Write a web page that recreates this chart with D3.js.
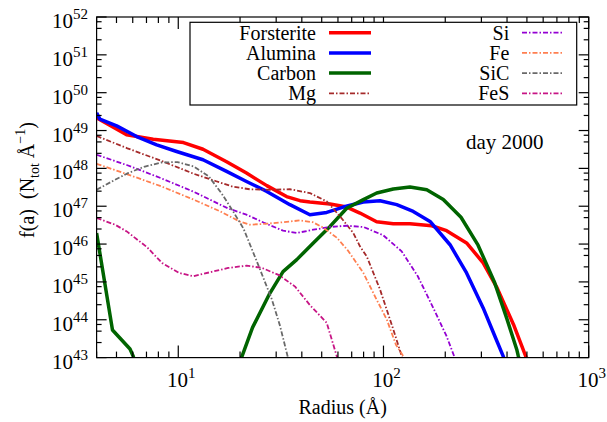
<!DOCTYPE html>
<html><head><meta charset="utf-8">
<script src="https://cdn.jsdelivr.net/npm/d3@7"></script>
<style>body{margin:0;background:#fff}</style>
</head><body>
<svg id="c" width="607" height="422"></svg>
<script>
// ---------------- data ----------------
const seriesNames = ["Forsterite","Alumina","Carbon","Mg","Si","Fe","SiC","FeS"];
const seriesColors = ["#ff0000","#0000ff","#006400","#a52a2a","#9400d3","#ff7f50","#696969","#c71585"];
const seriesSolid = [true,true,true,false,false,false,false,false];

const forsteriteR = [4.0,5.6,7.55,10.6,13.2,17.2,21.5,27,33.7,39.2,43.8,54.9,66.2,76.8,92.6,111.6,134.6,171.8,203,254,306,356,430,492,518];
const forsteriteF = [2.15e49,7.7e48,5.9e48,4.8e48,3.2e48,1.5e48,7.5e47,3.5e47,1.8e47,1.4e47,1.29e47,1.14e47,9.5e46,6.6e46,3.9e46,3.45e46,3.45e46,3.05e46,2.26e46,1.07e46,3.2e45,7.3e44,7.5e43,1.13e43,4.3e42];

const aluminaR = [4.0,4.15,5.01,6.27,7.85,9.82,13.2,17.2,21.5,27,35,43.8,52.9,63.7,79.7,96.2,116,139.6,168.6,211,254,306,349,383,400];
const aluminaF = [2.93e49,2.0e49,1.33e49,6.95e48,4.2e48,2.79e48,1.69e48,8.3e47,4.5e47,2.46e47,1.1e47,5.97e46,6.86e46,9.5e46,1.29e47,1.40e47,1.1e47,7.3e46,3.97e46,9.6e45,1.73e45,2.06e44,3.67e43,1.09e43,5.5e42];

const carbonR = [4.0,4.78,5.82,6.04,6.2,10,19.4,20.4,23,27.7,32.4,37.8,45.5,54.9,66.2,79.8,92.7,111.7,134.6,162.5,195.6,238.6,289,348,398,446,454,468];
const carbonF = [1.95e46,5.35e43,1.69e43,1.07e43,5e42,null,5e42,1.04e43,6.2e43,4.6e44,1.87e45,3.88e45,1.07e46,2.93e46,8.85e46,1.49e47,2.23e47,2.84e47,3.21e47,2.72e47,1.51e47,5.1e46,9.35e45,9.6e44,1.12e44,1.64e43,1.09e43,5.8e42];

const mgR = [4.0,5.65,8.24,11.9,15.3,18.5,22.3,28,35,43.8,52.9,61.4,71.3,76.8,82.9,96.2,111.7,122.7,127.4];
const mgF = [7.2e48,3.39e48,1.59e48,7.2e47,4.57e47,3.27e47,2.81e47,2.72e47,2.81e47,2.23e47,1.34e47,5.4e46,1.96e46,8.7e45,4.7e45,6.3e44,5.5e43,1.09e43,5.5e42];

const siR = [4.0,5.65,8.24,11.9,17.4,21.5,26.5,32.4,37.8,45.5,54.9,66.2,79.8,99.6,122.7,147,178,203,221,231];
const siF = [2.29e48,1.21e48,5.5e47,2.41e47,8.85e46,5.97e46,3.56e46,2.26e46,1.96e46,2.4e46,2.83e46,3.05e46,2.83e46,1.72e46,6.4e45,1.41e45,1.68e44,3.67e43,1.09e43,5.5e42];

const feR = [4.0,5.65,8.24,11.9,16,20,22.3,27,32.4,39.2,45.3,50.9,59.2,67.2,79.8,91,103.8,115,125,129];
const feF = [1.32e48,6.98e47,3.37e47,1.49e47,7.3e46,3.9e46,3.25e46,3.45e46,3.78e46,4.22e46,3.78e46,2.71e46,1.48e46,6.7e45,1.73e45,4.1e44,1.01e44,2.2e43,1.09e43,5.8e42];

const sicR = [4.0,4.92,5.69,6.88,8.3,9.91,11.9,14.1,16.3,18.5,20.8,24.5,28.6,31.3,34.1,34.8];
const sicF = [2.72e47,5.0e47,7.5e47,1.12e48,1.43e48,1.47e48,1.12e48,6.1e47,2.14e47,7.3e46,2.55e46,2.86e45,3.41e44,7.0e43,1.09e43,5.8e42];

const fesR = [4.0,4.92,5.61,7.04,8.34,10.1,11.8,14.4,17.5,21.5,25.6,31,37.1,43.8,52.9,59.2,61];
const fesF = [4.89e46,3.25e46,2.16e46,8.3e45,3.17e45,1.73e45,1.41e45,1.82e45,2.34e45,2.69e45,2.34e45,1.51e45,7.5e44,2.44e44,8.3e43,1.09e43,5.8e42];

const xMajorTicks = [10,100,1000];
const xMajorExp = ["1","2","3"];
const yMajorExp = [43,44,45,46,47,48,49,50,51,52];
const yMinorMult = [2.5,5,7.5];
const xMinorMult = [2,3,4,5,6,7,8,9];
const xLabel = "Radius (Å)";
const dayLabel = "day 2000";

const rArrays = [forsteriteR,aluminaR,carbonR,mgR,siR,feR,sicR,fesR];
const fArrays = [forsteriteF,aluminaF,carbonF,mgF,siF,feF,sicF,fesF];

// ---------------- layout ----------------
const FONT = "Liberation Serif";
const L = 96.6, R = 588.7, T = 17, B = 357.6;
const svg = d3.select("#c");
const x = d3.scaleLog().domain([4,1000]).range([L,R]);
const y = d3.scaleLog().domain([1e43,1e52]).range([B,T]);

svg.append("defs").append("clipPath").attr("id","clip")
  .append("rect").attr("x",L).attr("y",T).attr("width",R-L).attr("height",B-T);

// lines
const line = d3.line().defined(d=>d[1]!=null).x(d=>x(d[0])).y(d=>y(d[1]));
const g = svg.append("g").attr("clip-path","url(#clip)");
const dash = "5,2,1.5,2";
rArrays.forEach((rs,i)=>{
  const pts = rs.map((r,j)=>[r,fArrays[i][j]]);
  g.append("path").attr("d",line(pts)).attr("fill","none")
   .attr("stroke",seriesColors[i])
   .attr("stroke-width",seriesSolid[i]?3.5:1.8)
   .attr("stroke-dasharray",seriesSolid[i]?null:dash)
   .attr("stroke-linejoin","round");
});

// frame
const ax = svg.append("g").attr("stroke","#000").attr("stroke-width",1.2);
ax.append("rect").attr("x",L).attr("y",T).attr("width",R-L).attr("height",B-T).attr("fill","none");

function txt(sel){ return sel.append("text").attr("font-family",FONT).attr("fill","#000"); }

// x ticks
const xMinor = [];
for (let k=0;k<=2;k++) xMinorMult.forEach(m=>{const v=m*Math.pow(10,k); if(v>=4&&v<=1000) xMinor.push(v);});
xMinor.forEach(v=>{
  ax.append("line").attr("x1",x(v)).attr("x2",x(v)).attr("y1",B).attr("y2",B-6);
  ax.append("line").attr("x1",x(v)).attr("x2",x(v)).attr("y1",T).attr("y2",T+6);
});
xMajorTicks.forEach((v,i)=>{
  ax.append("line").attr("x1",x(v)).attr("x2",x(v)).attr("y1",B).attr("y2",B-12);
  ax.append("line").attr("x1",x(v)).attr("x2",x(v)).attr("y1",T).attr("y2",T+12);
  const t = txt(svg).attr("x",x(v)+3).attr("y",387).attr("text-anchor","middle").attr("font-size",21);
  t.append("tspan").text("10");
  t.append("tspan").attr("font-size",15).attr("dy",-9).text(xMajorExp[i]);
});
// y ticks
yMajorExp.forEach(e=>{
  const v = Math.pow(10,e);
  ax.append("line").attr("x1",L).attr("x2",L+10).attr("y1",y(v)).attr("y2",y(v));
  ax.append("line").attr("x1",R).attr("x2",R-10).attr("y1",y(v)).attr("y2",y(v));
  if (e<52) yMinorMult.forEach(m=>{
    const vv = m*v;
    ax.append("line").attr("x1",L).attr("x2",L+5).attr("y1",y(vv)).attr("y2",y(vv));
    ax.append("line").attr("x1",R).attr("x2",R-5).attr("y1",y(vv)).attr("y2",y(vv));
  });
  const t = txt(svg).attr("x",88).attr("y",y(v)+11).attr("text-anchor","end").attr("font-size",21);
  t.append("tspan").text("10");
  t.append("tspan").attr("font-size",15).attr("dy",-9).text(String(e));
});

// axis labels
txt(svg).attr("x",(L+R)/2).attr("y",414).attr("text-anchor","middle").attr("font-size",20).text(xLabel);
const yl = txt(svg).attr("transform","translate(34,180) rotate(-90)").attr("text-anchor","middle").attr("font-size",20);
yl.append("tspan").text("f(a)\u00a0\u00a0(N");
yl.append("tspan").attr("font-size",14).attr("dy",5).text("tot");
yl.append("tspan").attr("dy",-5).text("\u00a0Å");
yl.append("tspan").attr("font-size",14).attr("dy",-9).text("\u22121");
yl.append("tspan").attr("dy",9).text(")");

// day label
txt(svg).attr("x",466).attr("y",149).attr("font-size",21).text(dayLabel);

// legend
const lg = svg.append("g");
lg.append("rect").attr("x",190).attr("y",22.3).attr("width",386.7).attr("height",82.7)
  .attr("fill","#fff").attr("stroke","#000").attr("stroke-width",1.2);
seriesNames.forEach((n,i)=>{
  const col = Math.floor(i/4), row = i%4;
  const ty = 32.7 + row*20.2;
  const tx = col===0?316:509.3;
  const lx0 = col===0?329:522, lx1 = col===0?371:564;
  txt(lg).attr("x",tx).attr("y",ty+7).attr("text-anchor","end").attr("font-size",20).text(n);
  lg.append("line").attr("x1",lx0).attr("x2",lx1).attr("y1",ty).attr("y2",ty)
    .attr("stroke",seriesColors[i]).attr("stroke-width",seriesSolid[i]?3.5:1.8)
    .attr("stroke-dasharray",seriesSolid[i]?null:dash);
});
</script>
</body></html>
